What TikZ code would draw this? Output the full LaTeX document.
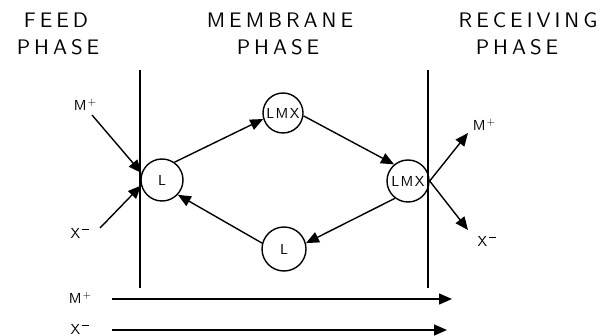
\documentclass[tikz,border=0pt]{standalone}
\usepackage{fontspec}
\newfontfamily\hdfont[LetterSpace=19]{lmsans10-regular.otf}
\newfontfamily\lbfont[LetterSpace=10]{lmsans10-regular.otf}
\newcommand{\supplus}{\raisebox{5pt}{\fontsize{11}{11}\selectfont\kern1pt+}}
\newcommand{\supminus}{\raisebox{8.5pt}{\kern2pt\rule{7pt}{0.8pt}}}
\usetikzlibrary{arrows.meta}
\begin{document}
\begin{tikzpicture}[x=1pt,y=-1pt,
  line width=1.4pt,
  head/.style={font=\hdfont\fontsize{21}{21}\selectfont, inner sep=0pt},
  lab/.style={font=\lbfont\fontsize{14.5}{14.5}\selectfont, inner sep=0pt},
  circ/.style={draw, circle, minimum size=42pt, inner sep=0pt, font=\lbfont\fontsize{14.5}{14.5}\selectfont},
  arr/.style={-{Triangle[length=13pt,width=11pt]}}]
\useasboundingbox (0,0) rectangle (607,336);
% headers
\node[head] (feed1) at (56,20) {FEED};
\node[head] (feed2) at (58,47) {PHASE};
\node[head] (mem1) at (280,20) {MEMBRANE};
\node[head] (mem2) at (278,47) {PHASE};
\node[head] (rec1) at (528,20) {RECEIVING};
\node[head] (rec2) at (517,47) {PHASE};
% interfaces
\coordinate (lt) at (140,70);
\coordinate (lb) at (140,288);
\coordinate (rt) at (428,70);
\coordinate (rb) at (428,288);
\draw (lt) -- (lb);
\draw (rt) -- (rb);
% carriers
\node[circ] (L1) at (162,180) {L};
\node[circ, minimum size=40pt] (M1) at (283,113) {LMX};
\node[circ] (M2) at (408,181) {LMX};
\node[circ, minimum size=44pt] (L2) at (284,249) {L};
\draw[arr] (L1.55) -- (M1.197);
\draw[arr] (M1.-8) -- (M2.130);
\draw[arr] (M2.233) -- (L2.15);
\draw[arr] (L2.165) -- (L1.-43);
% feed side ions
\node[lab] (mfl) at (85,105) {M\supplus};
\node[lab] (xfl) at (80,233) {X\supminus};
\coordinate (mfs) at (92,115);
\coordinate (xfs) at (100,228);
\draw[arr] (mfs) -- (L1.161);
\draw[arr] (xfs) -- (L1.195);
% receiving side ions
\node[lab] (mrl) at (484,125) {M\supplus};
\node[lab] (xrl) at (487,241) {X\supminus};
\coordinate (mre) at (468,133);
\coordinate (xre) at (468,230);
\draw[arr] (M2.east) -- (mre);
\draw[arr] (M2.east) -- (xre);
% overall transport
\node[lab] (mbl) at (80,298) {M\supplus};
\node[lab] (xbl) at (80,329) {X\supminus};
\coordinate (mbs) at (112,299);
\coordinate (mbe) at (452,299);
\coordinate (xbs) at (112,330);
\coordinate (xbe) at (447,330);
\draw[arr] (mbs) -- (mbe);
\draw[arr] (xbs) -- (xbe);
\end{tikzpicture}
\end{document}
